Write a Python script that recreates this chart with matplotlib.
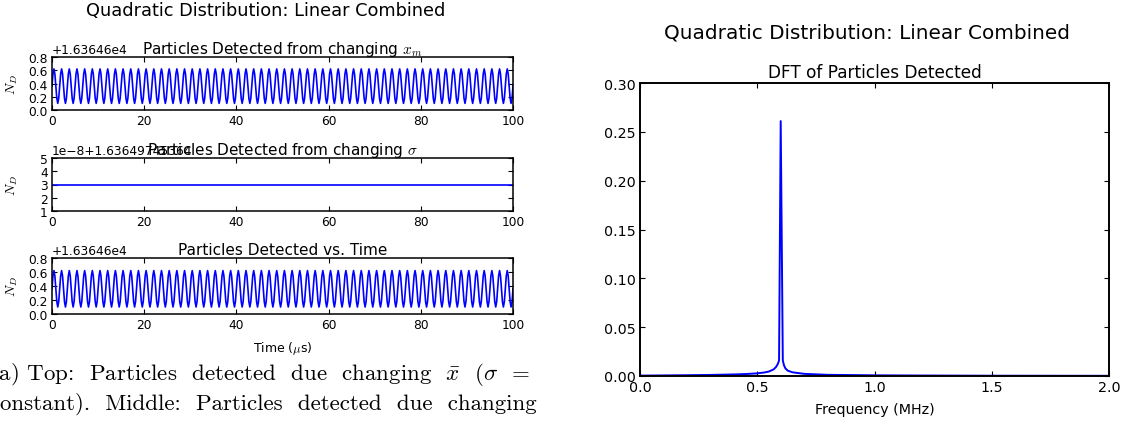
import numpy as np
import matplotlib
matplotlib.use("Agg")
import matplotlib.pyplot as plt

plt.rcParams["mathtext.fontset"] = "cm"

W, H = 1124, 427

# one period of N_D (offset units); signal is 60 periods over 100 us
CYCLE_ND = [0.36, 0.544, 0.62, 0.544, 0.36, 0.176, 0.10, 0.176]
N_CYCLES = 60
T_END = 100.0

SIGMA_T = [0.0, 100.0]
SIGMA_ND = [3.0, 3.0]

DFT_FREQ = [0.0, 0.1, 0.2, 0.3, 0.4, 0.45, 0.5, 0.53, 0.55, 0.57, 0.58, 0.588,
            0.593, 0.600, 0.609, 0.614, 0.62, 0.63, 0.65, 0.7, 0.8, 1.0, 1.2, 1.5, 2.0]
DFT_AMP = [0.0004, 0.0006, 0.0008, 0.0011, 0.0016, 0.002, 0.0027, 0.0036, 0.0046, 0.0068,
           0.0092, 0.0125, 0.016, 0.261, 0.016, 0.011, 0.0078, 0.0055, 0.0038, 0.0022,
           0.0012, 0.0007, 0.0005, 0.0003, 0.0002]

LEFT_YTICKS = [0.0, 0.2, 0.4, 0.6, 0.8]
SIGMA_YTICKS = [1, 2, 3, 4, 5]
TIME_XTICKS = [0, 20, 40, 60, 80, 100]
FREQ_XTICKS = [0.0, 0.5, 1.0, 1.5, 2.0]
DFT_YTICKS = [0.00, 0.05, 0.10, 0.15, 0.20, 0.25, 0.30]


def _rect(x0, y0, x1, y1):
    return [x0 / W, 1 - y1 / H, (x1 - x0) / W, (y1 - y0) / H]


def _style(ax, size, lw):
    ax.tick_params(direction="in", top=True, right=True, length=3.5, width=0.8,
                   labelsize=size, pad=3)
    for s in ax.spines.values():
        s.set_linewidth(lw)


nd = list(np.tile(CYCLE_ND, N_CYCLES)) + [CYCLE_ND[0]]
t = np.linspace(0, T_END, len(nd))

fig = plt.figure(figsize=(W / 100, H / 100), dpi=100, facecolor="white")

fig.text(266 / W, 1 - 11 / H, "Quadratic Distribution: Linear Combined",
         ha="center", va="center", fontsize=12.8)

panels = [
    (_rect(52, 58, 513, 111), t, nd, LEFT_YTICKS, (0, 0.8), "%.1f",
     "+1.63646e4", r"Particles Detected from changing $x_m$"),
    (_rect(52, 159, 513, 212), SIGMA_T, SIGMA_ND, SIGMA_YTICKS, (1, 5), "%d",
     "1e\u22128+1.63649745364", r"Particles Detected from changing $\sigma$"),
    (_rect(52, 259, 513, 315), t, nd, LEFT_YTICKS, (0, 0.8), "%.1f",
     "+1.63646e4", "Particles Detected vs. Time"),
]
for rect, xs, ys, yt, ylim, fmt, offset, title in panels:
    ax = fig.add_axes(rect)
    ax.plot(xs, ys, color="b", lw=1.2)
    ax.set_xlim(0, 100)
    ax.set_ylim(*ylim)
    ax.set_xticks(TIME_XTICKS)
    ax.set_yticks(yt)
    ax.set_yticklabels([fmt % v for v in yt])
    _style(ax, 8.8, 1.1)
    ax.set_title(title, fontsize=11, pad=3)
    ax.text(0, 1.02, offset, transform=ax.transAxes, ha="left", va="bottom", fontsize=8.8)
    ax.set_ylabel(r"$N_D$", fontsize=10)
    ax.yaxis.set_label_coords(-0.07, 0.5)
    last = ax

last.set_xlabel(r"Time ($\mu$s)", fontsize=9)
last.xaxis.set_label_coords(0.5, -0.45)

fig.text(867 / W, 1 - 33 / H, "Quadratic Distribution: Linear Combined",
         ha="center", va="center", fontsize=14.4)
ax4 = fig.add_axes(_rect(640, 84, 1109, 377))
ax4.plot(DFT_FREQ, DFT_AMP, color="b", lw=1.4)
ax4.set_xlim(0, 2.0)
ax4.set_ylim(0, 0.30)
ax4.set_xticks(FREQ_XTICKS)
ax4.set_xticklabels(["%.1f" % v for v in FREQ_XTICKS])
ax4.set_yticks(DFT_YTICKS)
ax4.set_yticklabels(["%.2f" % v for v in DFT_YTICKS])
_style(ax4, 10.3, 1.4)
ax4.set_title("DFT of Particles Detected", fontsize=12.2, pad=4)
ax4.set_xlabel("Frequency (MHz)", fontsize=10.3, labelpad=6)

# caption of the left subfigure, cut off at the page crop
cap = dict(fontfamily="cmr10", fontsize=16.5, ha="left", va="baseline")
fig.text(-10 / W, 1 - 380 / H,
         r"(a) Top:  Particles  detected  due  changing  $\bar{x}$  ($\sigma$  =", **cap)
fig.text(-19 / W, 1 - 410 / H,
         r"(constant).  Middle:  Particles  detected  due  changing", **cap)

fig.savefig("out.png", dpi=100, facecolor="white")
